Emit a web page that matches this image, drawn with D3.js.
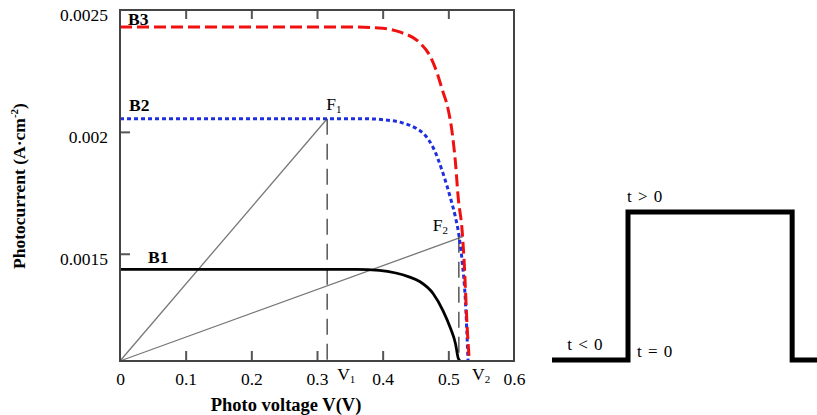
<!DOCTYPE html>
<meta charset="utf-8">
<script src="https://d3js.org/d3.v7.min.js"></script>
<style>
  body { margin: 0; background: #fff; }
  text { font-family: "Liberation Serif", "Times New Roman", serif; }
</style>
<div id="chart"></div>
<script>

// tick values
var xTicks = [0, 0.1, 0.2, 0.3, 0.4, 0.5, 0.6];
var yTicks = [0.0015, 0.002, 0.0025];

// I-V curves (voltage in V, current in A/cm2)
var b1V = [0, 0.36, 0.395, 0.42, 0.44, 0.457, 0.477, 0.492, 0.503, 0.511, 0.515, 0.518];
var b1I = [0.001436, 0.001436, 0.001432, 0.001421, 0.001405, 0.001385, 0.001336, 0.001266, 0.001196, 0.00113, 0.001072, 0.00106];

var b2V = [0, 0.37, 0.405, 0.43, 0.45, 0.465, 0.477, 0.492, 0.503, 0.511, 0.515, 0.521, 0.526, 0.530];
var b2I = [0.002054, 0.002054, 0.002049, 0.002037, 0.002016, 0.001985, 0.001935, 0.001829, 0.001731, 0.001648, 0.001595, 0.001471, 0.001307, 0.00106];

var b3V = [0, 0.36, 0.40, 0.427, 0.457, 0.473, 0.483, 0.491, 0.499, 0.506, 0.511, 0.515, 0.521, 0.524, 0.529, 0.532];
var b3I = [0.00243, 0.00243, 0.002425, 0.002409, 0.002364, 0.002307, 0.002241, 0.002171, 0.002101, 0.001994, 0.00187, 0.001731, 0.001595, 0.001471, 0.001183, 0.00106];

// operating points F1, F2 and their voltage markers
var opV = [0.3155, 0.522];
var opI = [0.002054, 0.00157];
var markV = [0.3155, 0.516];

// light pulse (time, level)
var pulseT = [-1, 0, 0, 2.16, 2.16, 2.6];
var pulseL = [0, 0, 1, 1, 0, 0];

var yMin = 0.00106, yMax = 0.0025;

var svg = d3.select("#chart")
  .append("svg")
    .attr("width", 817)
    .attr("height", 415);

var x = d3.scaleLinear().domain([0, 0.6]).range([120, 514]);
var y = d3.scaleLinear().domain([yMin, yMax]).range([361, 10]);

var zip = function(a, b) { return a.map(function(v, i) { return [v, b[i]]; }); };

var line = d3.line()
  .x(function(d) { return x(d[0]); })
  .y(function(d) { return y(d[1]); })
  .curve(d3.curveMonotoneX);

// load lines from origin
opV.forEach(function(v, i) {
  svg.append("line")
    .attr("x1", x(0)).attr("y1", y(yMin))
    .attr("x2", x(v)).attr("y2", y(opI[i]))
    .attr("stroke", "#777")
    .attr("stroke-width", 1.3);
  svg.append("line")
    .attr("x1", x(markV[i])).attr("y1", y(opI[i]))
    .attr("x2", x(markV[i])).attr("y2", y(yMin))
    .attr("stroke", "#555")
    .attr("stroke-width", 1.5)
    .attr("stroke-dasharray", "16,9");
});

// curves
svg.append("path")
  .datum(zip(b1V, b1I))
  .attr("d", line)
  .attr("fill", "none")
  .attr("stroke", "#000")
  .attr("stroke-width", 2.8);

svg.append("path")
  .datum(zip(b2V, b2I))
  .attr("d", line)
  .attr("fill", "none")
  .attr("stroke", "#1f2fe0")
  .attr("stroke-width", 3)
  .attr("stroke-dasharray", "4,3");

svg.append("path")
  .datum(zip(b3V, b3I))
  .attr("d", line)
  .attr("fill", "none")
  .attr("stroke", "#f01010")
  .attr("stroke-width", 3)
  .attr("stroke-dasharray", "12,5");

// axes
var xAxis = svg.append("g")
  .attr("transform", "translate(0," + y(yMin) + ")")
  .call(d3.axisBottom(x).tickValues(xTicks).tickSize(-10).tickPadding(12)
    .tickFormat(function(d) { return d === 0 ? "0" : d3.format(".1f")(d); }));
xAxis.selectAll("line").filter(function(d) { return d === 0 || d === 0.6; }).remove();

var topAxis = svg.append("g")
  .attr("transform", "translate(0," + y(yMax) + ")")
  .call(d3.axisTop(x).tickValues(xTicks.slice(1, -1)).tickSize(-9).tickFormat(""));

var yAxis = svg.append("g")
  .attr("transform", "translate(" + x(0) + ",0)")
  .call(d3.axisLeft(y).tickValues(yTicks).tickSize(-10).tickPadding(12)
    .tickFormat(function(d) { return String(d); }));
yAxis.selectAll("line").filter(function(d) { return d === yMax; }).remove();
yAxis.selectAll("text").attr("dy", "0.6em");

svg.selectAll(".domain").remove();
svg.selectAll(".tick line").attr("stroke", "#555").attr("stroke-width", 2);
svg.selectAll(".tick text")
  .attr("fill", "#000")
  .style("font-size", "17.5px")
  .style("font-family", "'Liberation Serif', 'Times New Roman', serif");

// frame
svg.append("rect")
  .attr("x", x(0)).attr("y", y(yMax))
  .attr("width", x(0.6) - x(0)).attr("height", y(yMin) - y(yMax))
  .attr("fill", "none")
  .attr("stroke", "#444")
  .attr("stroke-width", 2);

// curve labels
var lab = function(tx, ty, str, bold) {
  return svg.append("text")
    .attr("x", tx).attr("y", ty)
    .style("font-size", "17.5px")
    .style("font-weight", bold ? "bold" : "normal")
    .text(str);
};
lab(x(0) + 8, y(b3I[0]) - 2, "B3", true);
lab(x(0) + 9, y(b2I[0]) - 8, "B2", true);
lab(x(0) + 28, y(b1I[0]) - 6, "B1", true);

var sub = function(tx, ty, main, s) {
  var t = lab(tx, ty, main, false);
  t.append("tspan").attr("dy", 3).style("font-size", "11px").text(s);
};
sub(x(opV[0]) - 1, y(opI[0]) - 9, "F", "1");
sub(x(opV[1]) - 30, y(opI[1]) - 6, "F", "2");
sub(x(markV[0]) + 10, y(yMin) + 19, "V", "1");
sub(x(b2V[b2V.length - 1]) + 4, y(yMin) + 19, "V", "2");

// axis titles
svg.append("text")
  .attr("x", 286).attr("y", 411)
  .attr("text-anchor", "middle")
  .style("font-size", "18.5px")
  .style("font-weight", "bold")
  .text("Photo voltage V(V)");

var yt = svg.append("text")
  .attr("transform", "translate(25,186) rotate(-90)")
  .attr("text-anchor", "middle")
  .style("font-size", "17.5px")
  .style("font-weight", "bold")
  .text("Photocurrent (A\u00b7cm");
yt.append("tspan").attr("dy", -7).style("font-size", "11px").text("-2");
yt.append("tspan").attr("dy", 7).text(")");

// light pulse panel
var tx = d3.scaleLinear().domain([-1, 0]).range([552, 628]);
var ly = d3.scaleLinear().domain([0, 1]).range([360, 212]);

svg.append("path")
  .datum(zip(pulseT, pulseL))
  .attr("d", d3.line().x(function(d) { return tx(d[0]); }).y(function(d) { return ly(d[1]); }))
  .attr("fill", "none")
  .attr("stroke", "#000")
  .attr("stroke-width", 5)
  .attr("stroke-linejoin", "miter");

var plab = function(px, py, str) {
  svg.append("text")
    .attr("x", px).attr("y", py)
    .style("font-size", "17px")
    .style("word-spacing", "2px")
    .text(str);
};
plab(tx(-0.8), ly(0) - 10, "t < 0");
plab(tx(0) + 9, ly(0) - 3, "t = 0");
plab(tx(0) - 1, ly(1) - 10, "t > 0");

</script>
